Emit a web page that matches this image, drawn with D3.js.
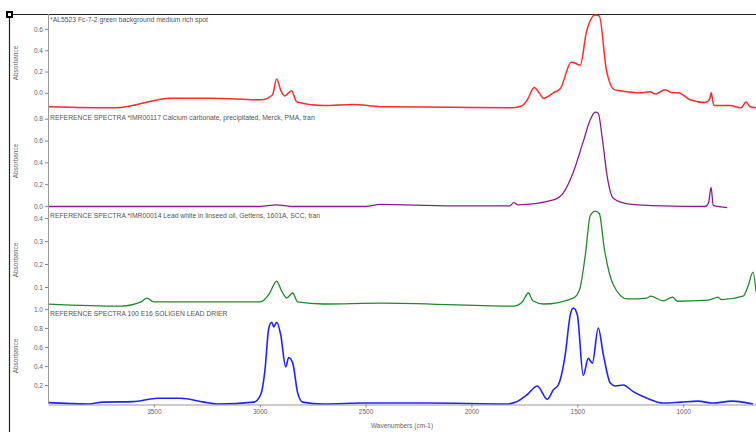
<!DOCTYPE html>
<html>
<head>
<meta charset="utf-8">
<script src="https://cdn.jsdelivr.net/npm/d3@7"></script>
<style>
  body { margin: 0; background: #fff; }
  svg { display: block; font-family: "Liberation Sans", Arial, sans-serif; }
</style>
</head>
<body>
<svg width="756" height="432"></svg>
<script>
// spectra: wavenumber (cm-1) / absorbance
const redWn  = [4000, 3680, 3420, 3231, 2995, 2940, 2920, 2900, 2882, 2850, 2825, 2700, 2560, 2429, 2100, 1807, 1760, 1736, 1703, 1680, 1660, 1613, 1580, 1528, 1486, 1457, 1415, 1396, 1363, 1325, 1297, 1203, 1156, 1132, 1085, 1052, 1024, 967, 896, 875, 868, 860, 854, 778, 727, 703, 684, 656];
const redAbs = [-0.13, -0.14, -0.05, -0.05, -0.065, -0.02, 0.13, 0.02, -0.03, 0.02, -0.085, -0.12, -0.11, -0.13, -0.135, -0.14, -0.12, -0.065, 0.05, 0.0, -0.05, 0.0, 0.04, 0.29, 0.26, 0.57, 0.73, 0.72, 0.22, 0.03, 0.02, 0.0, 0.01, -0.01, 0.03, 0.0, 0.0, -0.065, -0.09, -0.06, 0.0, -0.08, -0.12, -0.12, -0.14, -0.085, -0.13, -0.14];

const purpleWn  = [4000, 3400, 3000, 2920, 2850, 2500, 2430, 2100, 1820, 1800, 1780, 1613, 1566, 1519, 1472, 1439, 1415, 1401, 1382, 1358, 1330, 1264, 1094, 896, 880, 868, 858, 792];
const purpleAbs = [-0.005, -0.005, -0.005, 0.01, -0.005, -0.005, 0.015, 0.0, 0.0, 0.03, 0.01, 0.055, 0.12, 0.31, 0.59, 0.79, 0.86, 0.85, 0.62, 0.26, 0.07, 0.02, 0.0, -0.005, 0.03, 0.17, 0.005, -0.015];

const greenWn  = [4000, 3655, 3560, 3533, 3500, 3300, 2995, 2955, 2920, 2900, 2873, 2844, 2821, 2700, 2429, 1802, 1760, 1731, 1710, 1660, 1519, 1490, 1462, 1439, 1415, 1396, 1373, 1330, 1264, 1170, 1155, 1094, 1050, 1028, 880, 835, 820, 717, 695, 670, 656];
const greenAbs = [0.026, 0.017, 0.035, 0.052, 0.035, 0.035, 0.035, 0.07, 0.126, 0.09, 0.052, 0.074, 0.035, 0.026, 0.03, 0.017, 0.035, 0.074, 0.04, 0.026, 0.052, 0.087, 0.24, 0.41, 0.43, 0.42, 0.27, 0.11, 0.048, 0.052, 0.06, 0.04, 0.056, 0.038, 0.043, 0.056, 0.045, 0.06, 0.1, 0.165, 0.08];

const blueWn  = [4000, 3810, 3740, 3600, 3481, 3373, 3264, 3200, 3028, 2995, 2976, 2957, 2943, 2934, 2920, 2901, 2877, 2863, 2844, 2821, 2797, 2700, 2500, 2200, 1830, 1790, 1736, 1689, 1642, 1613, 1590, 1557, 1533, 1519, 1500, 1472, 1448, 1429, 1401, 1377, 1344, 1321, 1283, 1236, 1170, 1094, 1010, 930, 860, 770, 720, 670];
const blueAbs = [0.014, 0.0, 0.02, 0.025, 0.06, 0.06, 0.02, 0.0, 0.02, 0.1, 0.34, 0.8, 0.86, 0.81, 0.86, 0.73, 0.39, 0.49, 0.43, 0.12, 0.02, 0.0, 0.01, 0.01, 0.0, 0.02, 0.1, 0.19, 0.05, 0.15, 0.2, 0.52, 0.94, 1.01, 0.94, 0.3, 0.48, 0.43, 0.8, 0.52, 0.22, 0.19, 0.2, 0.13, 0.06, 0.01, 0.02, 0.03, 0.01, 0.03, 0.02, 0.0];

const titles = [
  "*AL5523 Fc-7-2 green background medium rich spot",
  "REFERENCE SPECTRA *IMR00117 Calcium carbonate, precipitated, Merck, PMA, tran",
  "REFERENCE SPECTRA *IMR00014 Lead white in linseed oil, Gettens, 1601A, SCC, tran",
  "REFERENCE SPECTRA 100 E16 SOLIGEN LEAD DRIER"
];
const yTicks = [
  [0.0, 0.2, 0.4, 0.6],
  [0.0, 0.2, 0.4, 0.6, 0.8],
  [0.1, 0.2, 0.3, 0.4],
  [0.2, 0.4, 0.6, 0.8, 1.0]
];
const xTicks = [3500, 3000, 2500, 2000, 1500, 1000];

function draw() {
  const svg = d3.select("svg");
  const width = +svg.attr("width");
  const left = 48;

  const panels = [
    { wn: redWn, abs: redAbs, color: "#ff2a2a", lw: 1.5, dom: [-0.18, 0.74], top: 14, bot: 112 },
    { wn: purpleWn, abs: purpleAbs, color: "#8a1c8f", lw: 1.3, dom: [-0.037, 0.862], top: 112, bot: 210 },
    { wn: greenWn, abs: greenAbs, color: "#1f8a2a", lw: 1.3, dom: [0, 0.435], top: 210, bot: 310 },
    { wn: blueWn, abs: blueAbs, color: "#2222ff", lw: 1.6, dom: [0, 1.01], top: 308, bot: 404 }
  ];

  const x = d3.scaleLinear().domain([4000, 656]).range([left, width]);

  svg.append("clipPath").attr("id", "plot")
    .append("rect").attr("x", left).attr("y", 13).attr("width", width - left).attr("height", 393);

  // frame
  svg.append("line").attr("x1", 9).attr("x2", width).attr("y1", 14.5).attr("y2", 14.5)
    .attr("stroke", "#222").attr("stroke-width", 1.2);
  svg.append("line").attr("x1", 9.5).attr("x2", 9.5).attr("y1", 14).attr("y2", 432)
    .attr("stroke", "#222").attr("stroke-width", 1.2);
  svg.append("rect").attr("x", 6).attr("y", 11).attr("width", 7).attr("height", 7).attr("fill", "#000");
  svg.append("rect").attr("x", 8).attr("y", 13).attr("width", 3).attr("height", 3).attr("fill", "#fff");

  panels.forEach((p, i) => {
    const y = d3.scaleLinear().domain(p.dom).range([p.bot, p.top]);

    const ax = svg.append("g").attr("transform", `translate(${left},0)`)
      .call(d3.axisLeft(y).tickValues(yTicks[i]).tickFormat(d3.format(".1f")).tickSize(3).tickPadding(2));
    ax.select(".domain").remove();
    ax.selectAll("line").attr("stroke", "#888");
    ax.selectAll("text").attr("fill", "#666").attr("font-size", 6.5);

    svg.append("text")
      .attr("transform", `translate(18,${(p.top + p.bot) / 2}) rotate(-90)`)
      .attr("text-anchor", "middle")
      .attr("font-size", 6.5).attr("fill", "#666")
      .text("Absorbance");

    svg.append("text").attr("x", left + 2).attr("y", p.top + 8)
      .attr("font-size", 6.8).attr("fill", "#555")
      .text(titles[i]);

    const line = d3.line()
      .x(d => x(d[0]))
      .y(d => y(d[1]))
      .curve(d3.curveMonotoneX);

    svg.append("path")
      .datum(d3.zip(p.wn, p.abs))
      .attr("clip-path", "url(#plot)")
      .attr("fill", "none")
      .attr("stroke", p.color)
      .attr("stroke-width", p.lw)
      .attr("stroke-linejoin", "round")
      .attr("d", line);
  });

  // y axis line, full height
  svg.append("line").attr("x1", left + 0.5).attr("x2", left + 0.5).attr("y1", 14).attr("y2", 404)
    .attr("stroke", "#999");

  const xa = svg.append("g").attr("transform", "translate(0,404.5)")
    .call(d3.axisBottom(x).tickValues(xTicks).tickFormat(d3.format("d")).tickSize(3).tickPadding(2).tickSizeOuter(0));
  xa.select(".domain").attr("stroke", "#999");
  xa.selectAll("line").attr("stroke", "#888");
  xa.selectAll("text").attr("fill", "#666").attr("font-size", 6.5);

  svg.append("text").attr("x", (left + width) / 2).attr("y", 428)
    .attr("text-anchor", "middle").attr("font-size", 6.5).attr("fill", "#666")
    .text("Wavenumbers (cm-1)");
}

window.onload = draw;
</script>
</body>
</html>
